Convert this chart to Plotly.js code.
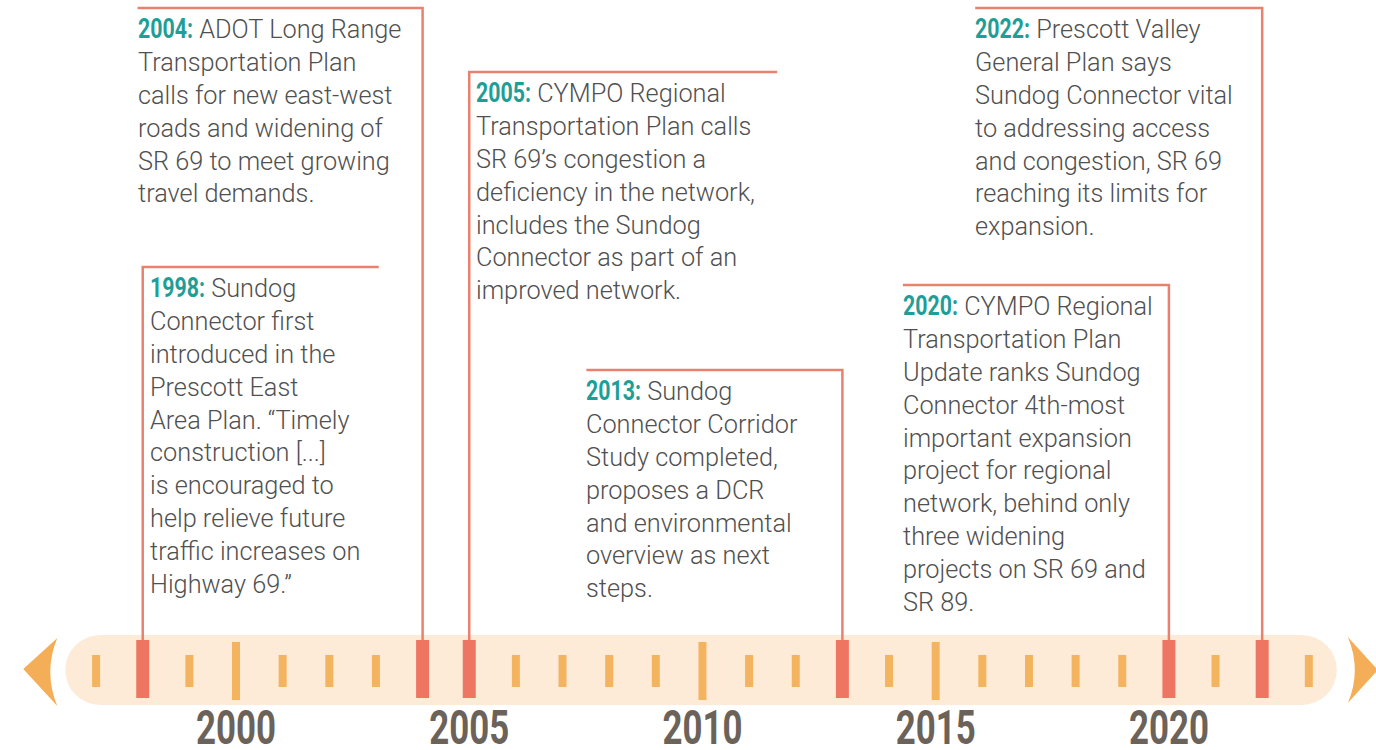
<!DOCTYPE html>
<html>
<head>
<meta charset="utf-8">
<script src="https://cdn.plot.ly/plotly-3.0.1.min.js"></script>
<style>
  html, body { margin: 0; padding: 0; background: #fff; }
  #timeline { width: 1376px; height: 750px; }
</style>
</head>
<body>
<div id="timeline"></div>
<script>
// years on the ruler
const years = [1997, 1998, 1999, 2000, 2001, 2002, 2003, 2004, 2005, 2006, 2007, 2008, 2009,
  2010, 2011, 2012, 2013, 2014, 2015, 2016, 2017, 2018, 2019, 2020, 2021, 2022, 2023]
const labelYears = [2000, 2005, 2010, 2015, 2020]

const eventYears = [1998, 2004, 2005, 2013, 2020, 2022]
const eventTexts = [
  ['Sundog', 'Connector first', 'introduced in the', 'Prescott East', 'Area Plan. “Timely',
    'construction [...]', 'is encouraged to', 'help relieve future', 'traffic increases on', 'Highway 69.”'],
  ['ADOT Long Range', 'Transportation Plan', 'calls for new east-west', 'roads and widening of',
    'SR 69 to meet growing', 'travel demands.'],
  ['CYMPO Regional', 'Transportation Plan calls', 'SR 69’s congestion a', 'deficiency in the network,',
    'includes the Sundog', 'Connector as part of an', 'improved network.'],
  ['Sundog', 'Connector Corridor', 'Study completed,', 'proposes a DCR', 'and environmental',
    'overview as next', 'steps.'],
  ['CYMPO Regional', 'Transportation Plan', 'Update ranks Sundog', 'Connector 4th-most',
    'important expansion', 'project for regional', 'network, behind only', 'three widening',
    'projects on SR 69 and', 'SR 89.'],
  ['Prescott Valley', 'General Plan says', 'Sundog Connector vital', 'to addressing access',
    'and congestion, SR 69', 'reaching its limits for', 'expansion.'],
]

// where each callout box sits (pixels from the top, side of the leader, width in px)
const boxTop = [267, 8, 72, 370, 285, 8]
const boxSide = ['right', 'left', 'right', 'left', 'left', 'left']
const boxWidth = [236, 285, 308, 256, 266, 287]

const W = 1376, H = 750
const xRange = [1994.94, 2024.44]
const ppy = W / (xRange[1] - xRange[0]) // pixels per year

const teal = '#1f9e98'
const salmon = '#ee7562'
const amber = '#f4b35f'

const isEvent = y => eventYears.includes(y)
const segs = (xs, y0, y1) => {
  const x = [], y = []
  xs.forEach(v => { x.push(v, v, null); y.push(y0, y1, null) })
  return { x, y }
}

const minorYears = years.filter(y => !isEvent(y) && y % 5 !== 0)
const majorYears = years.filter(y => !isEvent(y) && y % 5 === 0)

const minor = segs(minorYears, 655, 687)
const major = segs(majorYears, 642, 700)
const evt = segs(eventYears, 640, 698)

let leadX = [], leadY = []
eventYears.forEach((yr, i) => {
  const dx = boxWidth[i] / ppy * (boxSide[i] === 'right' ? 1 : -1)
  leadX.push(yr, yr, yr + dx, null)
  leadY.push(640, boxTop[i], boxTop[i], null)
})

const data = [
  { x: leadX, y: leadY, mode: 'lines', line: { color: '#e8826f', width: 2.5 }, hoverinfo: 'skip' },
  { x: minor.x, y: minor.y, mode: 'lines', line: { color: amber, width: 8 }, hoverinfo: 'skip' },
  { x: major.x, y: major.y, mode: 'lines', line: { color: amber, width: 8 }, hoverinfo: 'skip' },
  { x: evt.x, y: evt.y, mode: 'lines', line: { color: salmon, width: 13 }, hoverinfo: 'skip' },
]

// rounded band behind the ruler
const bandL = years[0] - 0.66
const bandR = years[years.length - 1] + 0.6
const r = 35 / ppy
const bandFill = '#fdebd8'
const shapes = [
  { type: 'rect', layer: 'below', x0: bandL + r, x1: bandR - r, y0: 635, y1: 705, fillcolor: bandFill, line: { width: 0 } },
  { type: 'circle', layer: 'below', x0: bandL, x1: bandL + 2 * r, y0: 635, y1: 705, fillcolor: bandFill, line: { width: 0 } },
  { type: 'circle', layer: 'below', x0: bandR - 2 * r, x1: bandR, y0: 635, y1: 705, fillcolor: bandFill, line: { width: 0 } },
]
const aL = bandL - 8 / ppy, tipL = aL - 34 / ppy
const aR = bandR + 11 / ppy, tipR = aR + 30 / ppy
shapes.push({
  type: 'path', layer: 'below', fillcolor: '#f5ae58', line: { width: 0 },
  path: `M ${aL} 638 Q ${aL - 14 / ppy} 672 ${aL} 706 L ${tipL} 669 Z`
})
shapes.push({
  type: 'path', layer: 'below', fillcolor: '#f5ae58', line: { width: 0 },
  path: `M ${aR} 637 Q ${aR + 14 / ppy} 670 ${aR} 703 L ${tipR} 670 Z`
})

const annotations = eventYears.map((yr, i) => {
  const left = boxSide[i] === 'right' ? yr + 6 / ppy : yr - (boxWidth[i] + 1) / ppy
  const head = `<span style="font-weight:bold;font-size:28px;color:${teal}">${yr}:</span> `
  return {
    x: left, y: boxTop[i], xref: 'x', yref: 'y',
    xanchor: 'left', yanchor: 'top', align: 'left',
    showarrow: false, borderpad: 0, yshift: -3,
    text: head + eventTexts[i].join('<br>'),
    font: { family: 'Roboto, Open Sans, sans-serif', size: 25.3, color: '#505050', weight: 300 },
  }
})

const layout = {
  width: W, height: H,
  margin: { l: 0, r: 0, t: 0, b: 0 },
  paper_bgcolor: '#ffffff', plot_bgcolor: '#ffffff',
  showlegend: false,
  hovermode: false,
  xaxis: {
    range: xRange, showgrid: false, zeroline: false, showline: false, ticks: '',
    ticklabelposition: 'inside', ticklabelstandoff: -7,
    tickvals: labelYears, ticktext: labelYears.map(String),
    tickfont: { family: 'Roboto, sans-serif', size: 48, color: '#6b625a', weight: 'bold' },
  },
  yaxis: { range: [H, 0], visible: false },
  shapes,
  annotations,
}

// squeeze the year digits into a condensed look
const condense = () => {
  document.querySelectorAll('.xtick text').forEach(t => {
    t.setAttribute('textLength', 80)
    t.setAttribute('lengthAdjust', 'spacingAndGlyphs')
  })
  document.querySelectorAll('.annotation-text tspan').forEach(t => {
    if (/^\d{4}:$/.test(t.textContent)) {
      const w = t.getComputedTextLength()
      t.setAttribute('textLength', Math.round(w * 0.76))
      t.setAttribute('lengthAdjust', 'spacingAndGlyphs')
    }
  })
}

Plotly.newPlot('timeline', data, layout, { displayModeBar: false, staticPlot: true }).then(condense)
</script>
</body>
</html>
